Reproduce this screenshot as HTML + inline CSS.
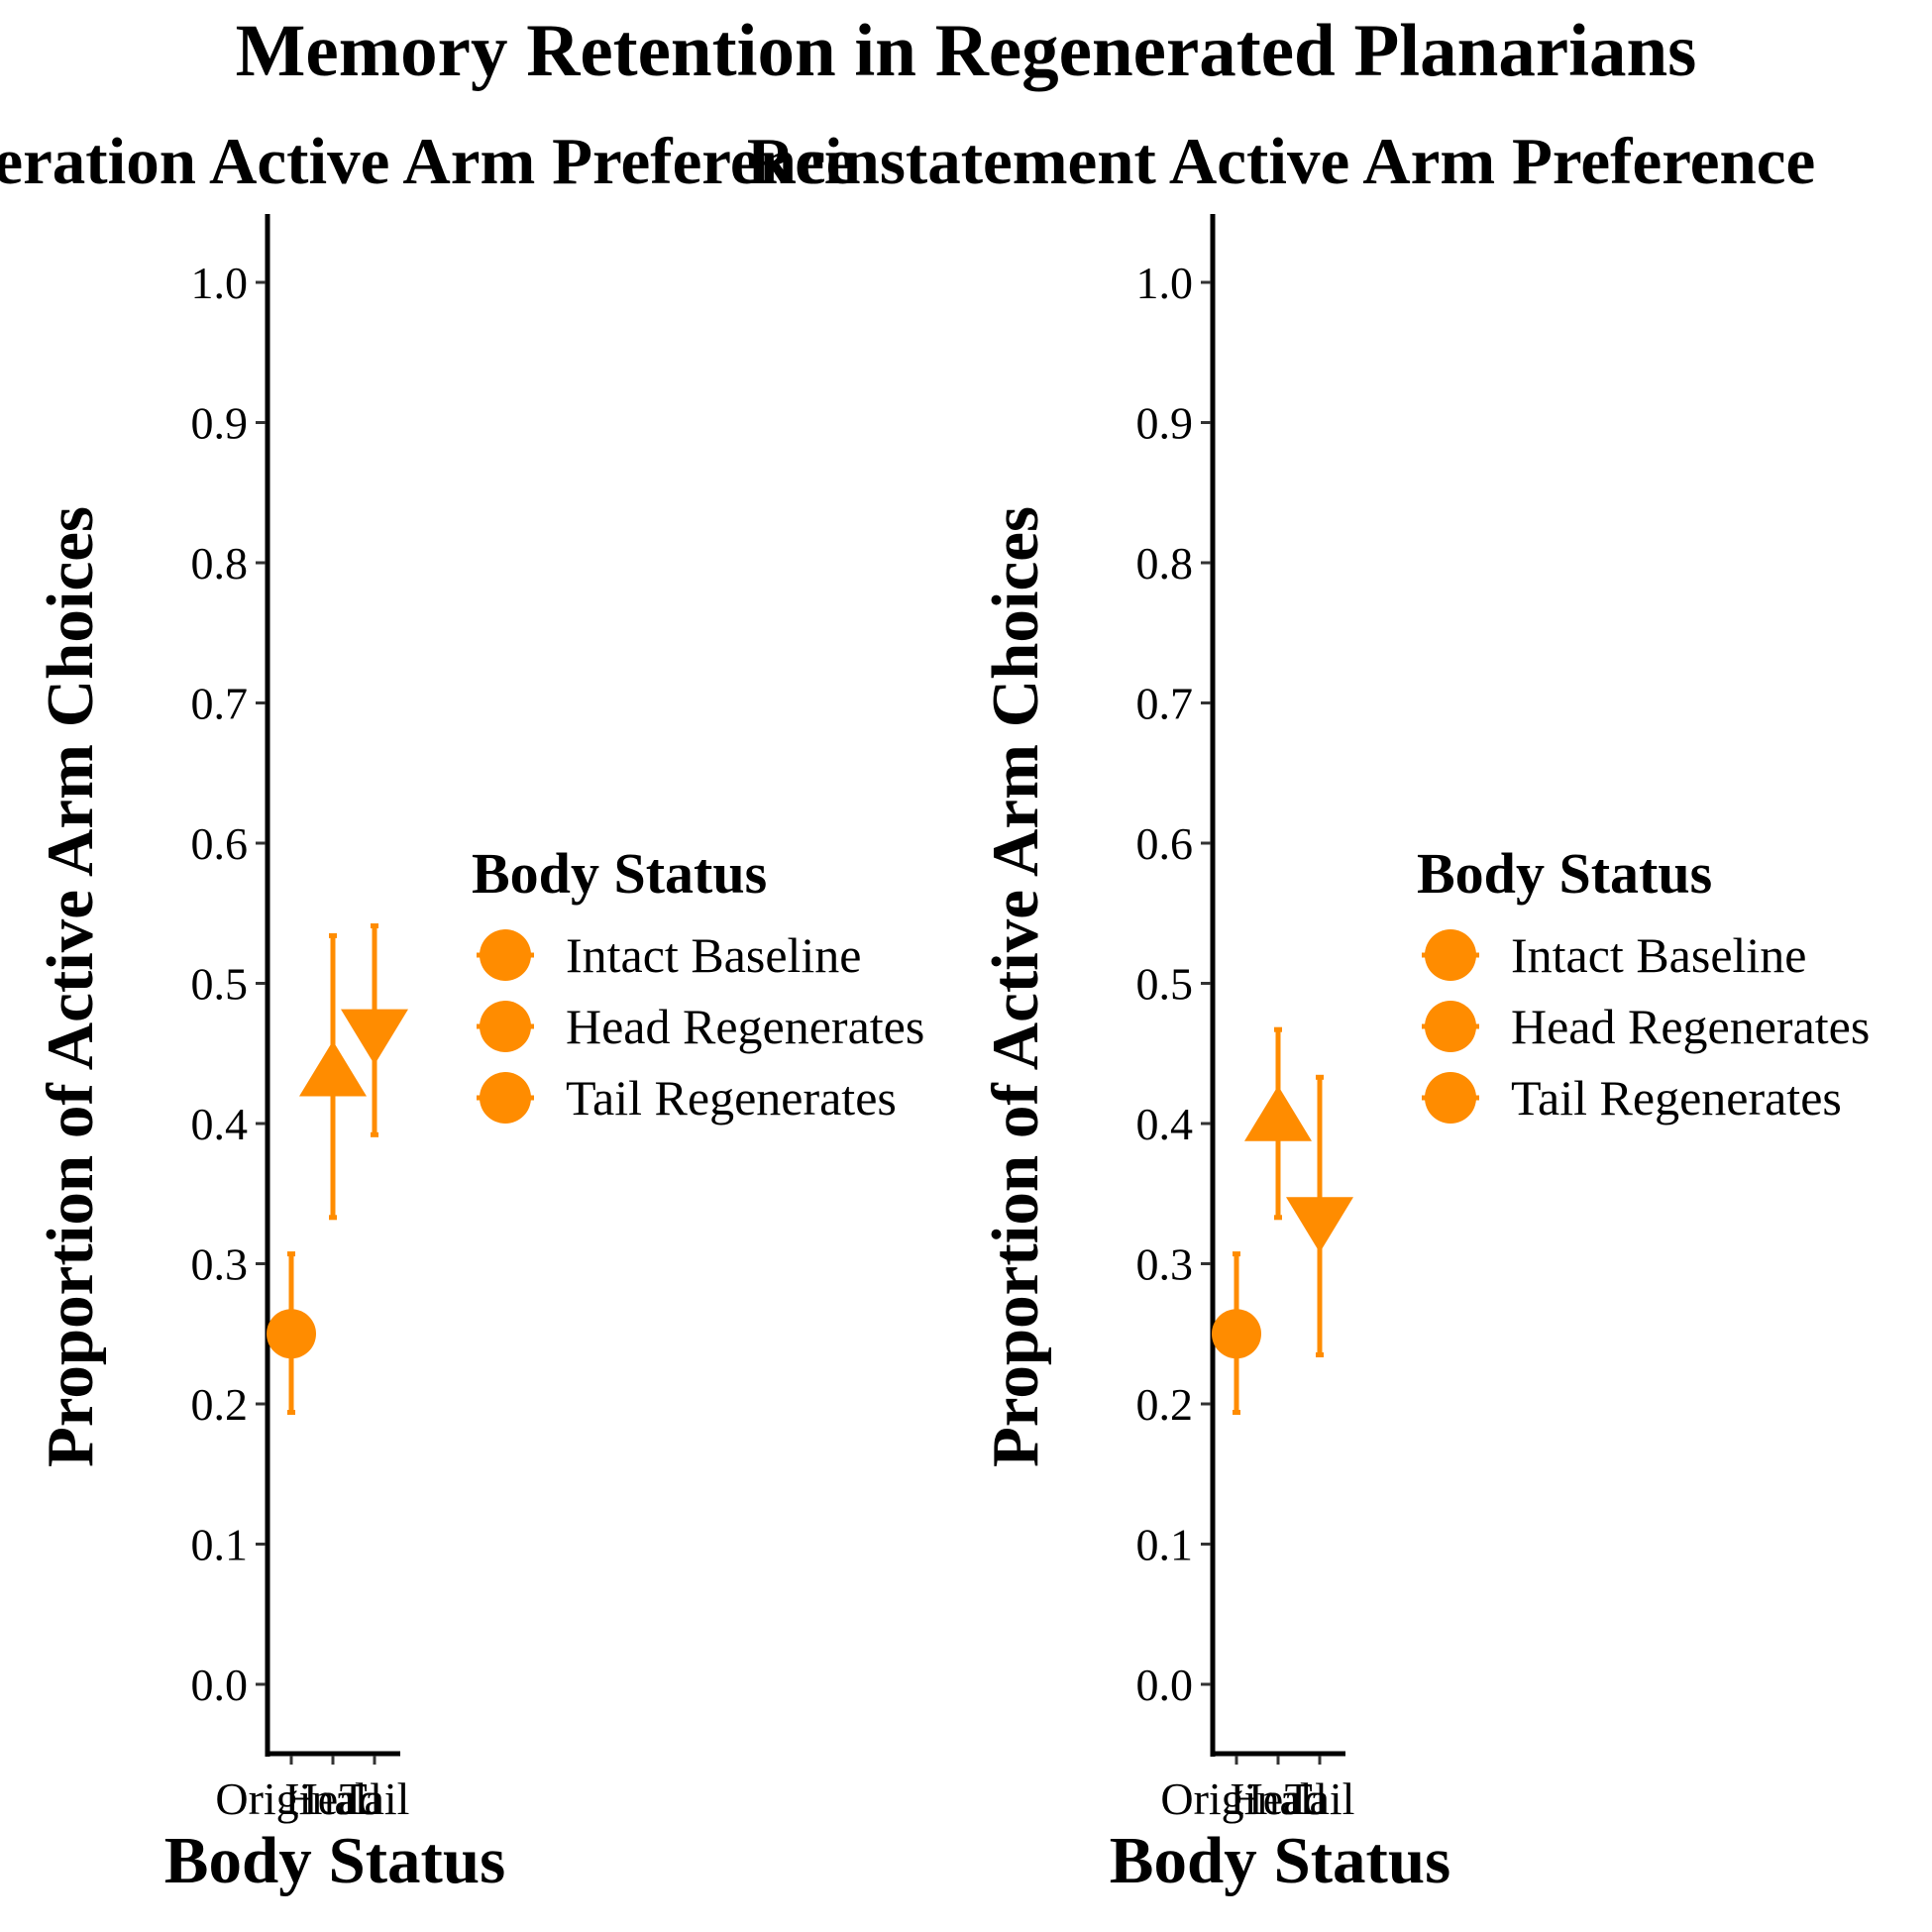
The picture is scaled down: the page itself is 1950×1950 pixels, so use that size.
<!DOCTYPE html>
<html><head><meta charset="utf-8"><style>body{margin:0;background:#fff}svg{display:block}text{font-family:"Liberation Serif",serif}</style></head>
<body>
<svg id="chart" width="1950" height="1950" viewBox="0 0 1950 1950">
<text x="975" y="76" text-anchor="middle" font-size="75" font-weight="bold">Memory Retention in Regenerated Planarians</text>
<g id="panels"></g>
</svg>
<script>
const categories = ["Original", "Head", "Tail"];
const legendLabels = ["Intact Baseline", "Head Regenerates", "Tail Regenerates"];
const yTicks = [0, 0.1, 0.2, 0.3, 0.4, 0.5, 0.6, 0.7, 0.8, 0.9, 1.0];
const regenMean = [0.25, 0.435, 0.466];
const regenLow = [0.194, 0.333, 0.392];
const regenHigh = [0.307, 0.534, 0.541];
const reinMean = [0.25, 0.403, 0.332];
const reinLow = [0.194, 0.333, 0.235];
const reinHigh = [0.307, 0.467, 0.433];
const panelTitles = ["Regeneration Active Arm Preference", "Reinstatement Active Arm Preference"];

const NS = "http://www.w3.org/2000/svg";
const C = "#FF8C00";
function mk(tag, attrs, parent) {
  const e = document.createElementNS(NS, tag);
  for (const k in attrs) e.setAttribute(k, attrs[k]);
  parent.appendChild(e);
  return e;
}
const root = document.getElementById('panels');
const yScale = v => 1700 - 1415 * v;

function panel(idx, off, mean, low, high) {
  const g = mk('g', {transform: 'translate(' + off + ',0)'}, root);
  
  
  const xScale = i => 294 + i * 42;
  const t = mk('text', {x: 339, y: 185, 'text-anchor': 'middle', 'font-size': 67, 'font-weight': 'bold'}, g);
  t.textContent = panelTitles[idx];
  
  
  const ya = mk('line', {x1: 270, y1: 216, x2: 270, y2: 1773, stroke: '#000', 'stroke-width': 5}, g);
  
  
  const xa = mk('line', {x1: 268, y1: 1770, x2: 404, y2: 1770, stroke: '#000', 'stroke-width': 5}, g);
  
  
  yTicks.forEach(v => {
    const tk = mk('line', {x1: 258, y1: yScale(v), x2: 268, y2: yScale(v), stroke: '#333', 'stroke-width': 3}, g);
    
    
    const lb = mk('text', {x: 250, y: yScale(v) + 16, 'text-anchor': 'end', 'font-size': 46}, g);
    lb.textContent = v.toFixed(1);
    
    
  });
  categories.forEach((c, i) => {
    const tk = mk('line', {x1: xScale(i), y1: 1772, x2: xScale(i), y2: 1781, stroke: '#333', 'stroke-width': 3}, g);
    
    
    const lb = mk('text', {x: xScale(i), y: 1831, 'text-anchor': 'middle', 'font-size': 46}, g);
    lb.textContent = c;
    
    
  });
  const yt = mk('text', {x: 0, y: 0, transform: 'translate(93,996) rotate(-90)', 'text-anchor': 'middle', 'font-size': 67, 'font-weight': 'bold'}, g);
  yt.textContent = 'Proportion of Active Arm Choices';
  
  
  const xt = mk('text', {x: 338, y: 1900, 'text-anchor': 'middle', 'font-size': 67, 'font-weight': 'bold'}, g);
  xt.textContent = 'Body Status';
  
  
  categories.forEach((c, i) => {
    const x = xScale(i);
    const eb = mk('g', {stroke: C, 'stroke-width': 5}, g);
    
    
    mk('line', {x1: x, y1: yScale(high[i]), x2: x, y2: yScale(low[i])}, eb);
    mk('line', {x1: x - 4, y1: yScale(high[i]), x2: x + 4, y2: yScale(high[i])}, eb);
    mk('line', {x1: x - 4, y1: yScale(low[i]), x2: x + 4, y2: yScale(low[i])}, eb);
    const y = yScale(mean[i]);
    let m;
    if (i === 0) m = mk('circle', {cx: x, cy: y, r: 25, fill: C}, g);
    else if (i === 1) m = mk('polygon', {points: (x - 34) + ',' + (y + 22) + ' ' + (x + 34) + ',' + (y + 22) + ' ' + x + ',' + (y - 34), fill: C}, g);
    else m = mk('polygon', {points: (x - 34) + ',' + (y - 22) + ' ' + (x + 34) + ',' + (y - 22) + ' ' + x + ',' + (y + 34), fill: C}, g);
    
    
  });
  const lg = mk('g', {}, g);
  
  
  const lt = mk('text', {x: 476, y: 901, 'font-size': 58, 'font-weight': 'bold'}, lg);
  lt.textContent = 'Body Status';
  
  
  legendLabels.forEach((l, i) => {
    const cy = 964 + i * 72;
    const e = mk('g', {}, lg);
    
    
    mk('line', {x1: 481, y1: cy, x2: 539, y2: cy, stroke: C, 'stroke-width': 5}, e);
    mk('circle', {cx: 510, cy: cy, r: 26, fill: C}, e);
    const tx = mk('text', {x: 571, y: cy + 17, 'font-size': 50}, e);
    tx.textContent = l;
  });
}
panel(0, 0, regenMean, regenLow, regenHigh);
panel(1, 954, reinMean, reinLow, reinHigh);
</script>
</body></html>
